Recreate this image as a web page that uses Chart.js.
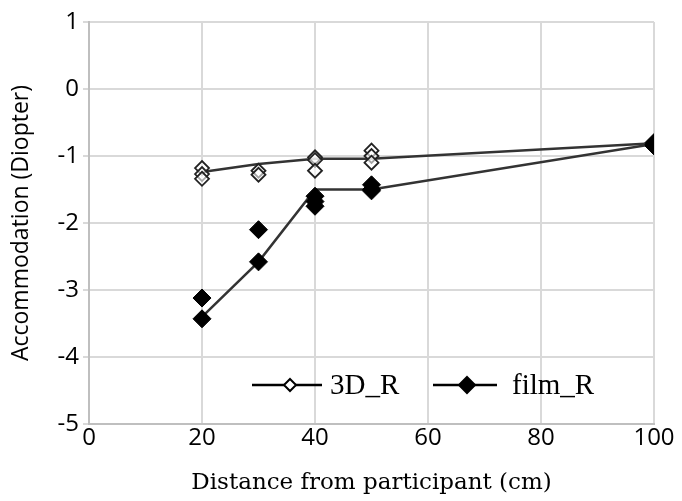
<!DOCTYPE html>
<html>
<head>
<meta charset="utf-8">
<script src="https://cdn.jsdelivr.net/npm/chart.js@4.4.0/dist/chart.umd.min.js"></script>
<style>
html,body{margin:0;padding:0;background:#fff;}
#wrap{width:682px;height:501px;position:relative;}
</style>
</head>
<body>
<div id="wrap"><canvas id="c" width="682" height="501"></canvas></div>
<script>
// Individual measurements (x = distance in cm, y = accommodation in diopter)
const d3X = [20, 20, 20, 30, 30, 40, 40, 40, 50, 50, 50, 100, 100, 100];
const d3Y = [-1.18, -1.27, -1.34, -1.22, -1.28, -1.02, -1.06, -1.22, -0.92, -1.0, -1.1, -0.8, -0.82, -0.84];
const filmX = [20, 20, 30, 30, 40, 40, 40, 50, 50, 50, 100, 100, 100];
const filmY = [-3.12, -3.43, -2.1, -2.58, -1.6, -1.68, -1.75, -1.43, -1.5, -1.52, -0.8, -0.83, -0.85];
// Mean lines
const lineX = [20, 30, 40, 50, 100];
const d3Line = [-1.24, -1.12, -1.04, -1.04, -0.81];
const filmLine = [-3.4, -2.58, -1.5, -1.5, -0.82];
const xTicks = [0, 20, 40, 60, 80, 100];
const yTicks = [1, 0, -1, -2, -3, -4, -5];
const seriesNames = ['3D_R', 'film_R'];

const pts = (xs, ys) => xs.map((x, i) => ({x: x, y: ys[i]}));

const legendPlugin = {
  id: 'customLegend',
  afterDatasetsDraw(chart) {
    const ctx = chart.ctx;
    const y = 385;
    const items = [
      {x0: 252, x1: 322, mx: 290, tx: 330, fill: '#fff', r: 6, name: seriesNames[0]},
      {x0: 433, x1: 497, mx: 467, tx: 512, fill: '#000', r: 8, name: seriesNames[1]}
    ];
    ctx.save();
    items.forEach(it => {
      ctx.strokeStyle = '#000';
      ctx.lineWidth = 2.5;
      ctx.beginPath();
      ctx.moveTo(it.x0, y); ctx.lineTo(it.x1, y); ctx.stroke();
      ctx.beginPath();
      ctx.moveTo(it.mx, y - it.r); ctx.lineTo(it.mx + it.r, y);
      ctx.lineTo(it.mx, y + it.r); ctx.lineTo(it.mx - it.r, y); ctx.closePath();
      ctx.fillStyle = it.fill; ctx.fill();
      ctx.lineWidth = 2; ctx.stroke();
      ctx.fillStyle = '#000';
      ctx.font = '29px "Liberation Serif"';
      ctx.textBaseline = 'middle';
      ctx.textAlign = 'left';
      ctx.fillText(it.name, it.tx, y + 1);
    });
    ctx.restore();
  }
};

new Chart(document.getElementById('c'), {
  type: 'scatter',
  data: {
    datasets: [
      {type: 'line', label: seriesNames[0] + ' mean', data: pts(lineX, d3Line), borderColor: '#333', borderWidth: 2.5, pointRadius: 0, fill: false, tension: 0, order: 3},
      {type: 'line', label: seriesNames[1] + ' mean', data: pts(lineX, filmLine), borderColor: '#333', borderWidth: 2.5, pointRadius: 0, fill: false, tension: 0, order: 3},
      {label: seriesNames[0], data: pts(d3X, d3Y), pointStyle: 'rectRot', pointRadius: 7, backgroundColor: 'rgba(255,255,255,0.6)', borderColor: '#222', borderWidth: 1.8, order: 2},
      {label: seriesNames[1], data: pts(filmX, filmY), pointStyle: 'rectRot', pointRadius: 9, backgroundColor: '#000', borderColor: '#000', borderWidth: 1, order: 1}
    ]
  },
  options: {
    responsive: false,
    animation: false,
    layout: {padding: {top: 22, right: 28, left: 8, bottom: 0}},
    plugins: {legend: {display: false}, tooltip: {enabled: false}},
    scales: {
      x: {
        type: 'linear', min: 0, max: 100,
        afterBuildTicks: s => { s.ticks = xTicks.map(v => ({value: v})); },
        afterFit: s => { s.height = 77; },
        grid: {color: '#d9d9d9', lineWidth: 2, drawTicks: false},
        border: {color: '#bfbfbf', width: 2},
        ticks: {color: '#000', font: {family: '"Open Sans"', size: 24}, padding: 0},
        title: {display: true, text: 'Distance from participant (cm)', color: '#000', font: {family: '"DejaVu Serif"', size: 23}, padding: {top: 0, bottom: 4}}
      },
      y: {
        type: 'linear', min: -5, max: 1,
        afterBuildTicks: s => { s.ticks = yTicks.map(v => ({value: v})); },
        afterFit: s => { s.width = 81; },
        grid: {color: '#d9d9d9', lineWidth: 2, tickLength: 6},
        border: {color: '#bfbfbf', width: 2},
        ticks: {color: '#000', font: {family: '"Open Sans"', size: 24}, padding: 4},
        title: {display: true, text: 'Accommodation (Diopter)', color: '#000', font: {family: '"Open Sans"', size: 23}, padding: {top: 0, bottom: 0}}
      }
    }
  },
  plugins: [legendPlugin]
});
</script>
</body>
</html>
